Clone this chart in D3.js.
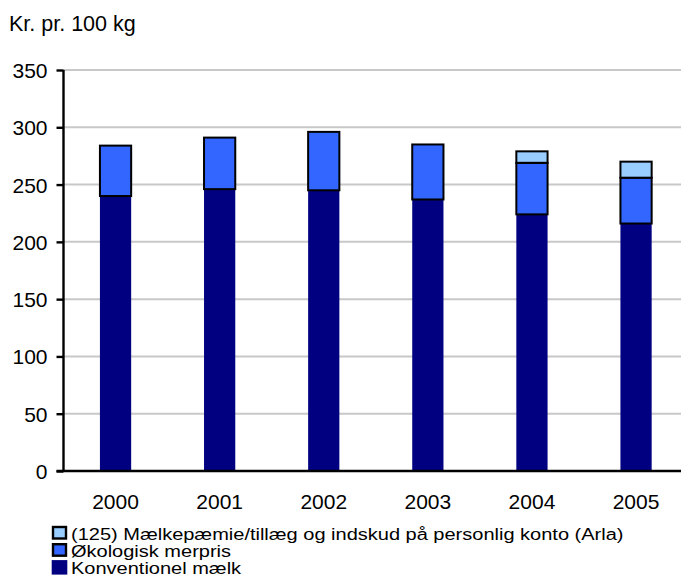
<!DOCTYPE html>
<html><head><meta charset="utf-8">
<script src="https://cdn.jsdelivr.net/npm/d3@7"></script>
<style>body{margin:0;background:#fff}svg{display:block}text{font-family:"Liberation Sans",Arial,sans-serif;fill:#000}</style>
</head><body><svg id="c" width="681" height="577"></svg>
<script>
const years = ["2000","2001","2002","2003","2004","2005"];
const konventionel = [240, 246, 245, 237, 224, 216];
const oekologisk = [44, 45, 51, 48, 45, 40];
const praemie = [0, 0, 0, 0, 10, 14];
const yTicks = [0,50,100,150,200,250,300,350];
const seriesNames = ["(125) Mælkepæmie/tillæg og indskud på personlig konto (Arla)","Økologisk merpris","Konventionel mælk"];
const colors = {konv:"#000080", oeko:"#3366FF", prem:"#99CCFF"};

const AX = 63.5;
const svg = d3.select("#c");
const x = d3.scaleBand().domain(years).range([AX, AX + 6*104.1]).paddingInner(0.7).paddingOuter(0.35);
const y = d3.scaleLinear().domain([0,350]).range([471, 70]);

svg.append("g").selectAll("line").data(yTicks.filter(d=>d>0)).join("line")
  .attr("x1",AX).attr("x2",681).attr("y1",d=>y(d)).attr("y2",d=>y(d))
  .attr("stroke","#c8c8c8").attr("stroke-width",2);

const data = years.map((yr,i)=>({yr, k:konventionel[i], o:oekologisk[i], p:praemie[i]}));
const g = svg.append("g");
g.selectAll(".k").data(data).join("rect")
  .attr("x",d=>x(d.yr)).attr("width",x.bandwidth())
  .attr("y",d=>y(d.k)).attr("height",d=>y(0)-y(d.k)).attr("fill",colors.konv);
g.selectAll(".o").data(data).join("rect")
  .attr("x",d=>x(d.yr)).attr("width",x.bandwidth())
  .attr("y",d=>y(d.k+d.o)).attr("height",d=>y(d.k)-y(d.k+d.o))
  .attr("fill",colors.oeko).attr("stroke","#000").attr("stroke-width",2);
g.selectAll(".p").data(data.filter(d=>d.p>0)).join("rect")
  .attr("x",d=>x(d.yr)).attr("width",x.bandwidth())
  .attr("y",d=>y(d.k+d.o+d.p)).attr("height",d=>y(d.k+d.o)-y(d.k+d.o+d.p))
  .attr("fill",colors.prem).attr("stroke","#000").attr("stroke-width",2);

const ya = svg.append("g").attr("transform",`translate(${AX},0)`)
  .call(d3.axisLeft(y).tickValues(yTicks).tickSize(7).tickPadding(9));
ya.attr("font-family",null).attr("font-size",null);
ya.select(".domain").attr("stroke","#000").attr("stroke-width",2.4).attr("d","M0,70V472");
ya.selectAll(".tick line").attr("stroke","#000").attr("stroke-width",2.4);
ya.selectAll("text").attr("font-size",21).attr("dy","0.36em");

const xa = svg.append("g").attr("transform","translate(0,471)")
  .call(d3.axisBottom(x).tickSize(0).tickPadding(0));
xa.attr("font-family",null).attr("font-size",null);
xa.select(".domain").attr("stroke","#000").attr("stroke-width",2.4).attr("d",`M${AX-7},0H681`);
xa.selectAll("text").attr("font-size",21).attr("y",38).attr("dy",0);

svg.append("text").attr("x",9).attr("y",31).attr("font-size",21.5).text("Kr. pr. 100 kg");

const leg = [{n:seriesNames[0],c:colors.prem,b:true},{n:seriesNames[1],c:colors.oeko,b:true},{n:seriesNames[2],c:colors.konv,b:false}];
const lg = svg.append("g").selectAll("g").data(leg).join("g")
  .attr("transform",(d,i)=>`translate(0,${526+i*17.2})`);
lg.append("rect").attr("x",53).attr("y",1).attr("width",13).attr("height",11.5)
  .attr("fill",d=>d.c).attr("stroke",d=>d.b?"#000":"none").attr("stroke-width",2.4);
lg.filter(d=>!d.b).select("rect").attr("x",51.7).attr("y",-0.3).attr("width",15.6).attr("height",14.5);
lg.append("text").attr("transform","translate(71,14) scale(1,0.8)").attr("font-size",20).text(d=>d.n);
</script></body></html>
